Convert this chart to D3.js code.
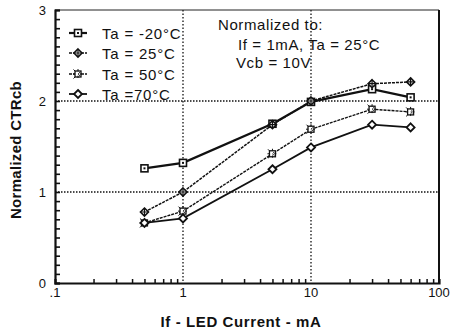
<!DOCTYPE html>
<html><head><meta charset="utf-8">
<script src="https://cdn.jsdelivr.net/npm/d3@7"></script>
<style>body{margin:0;background:#fff}svg{display:block}text{font-family:"Liberation Sans",Arial,sans-serif}</style>
</head><body><svg id="c" width="454" height="332"></svg>
<script>
const currents = [0.5, 1, 5, 10, 30, 60];
const seriesNames = ["Ta = -20\u00B0C", "Ta = 25\u00B0C", "Ta = 50\u00B0C", "Ta =70\u00B0C"];
const vMinus20 = [1.26, 1.32, 1.75, 1.99, 2.13, 2.04];
const v25 = [0.78, 1.00, 1.74, 2.00, 2.19, 2.21];
const v50 = [0.66, 0.79, 1.42, 1.69, 1.91, 1.88];
const v70 = [0.66, 0.71, 1.25, 1.49, 1.74, 1.71];
const xTickLabels = [".1", "1", "10", "100"];
const yTickLabels = ["0", "1", "2", "3"];
const noteLines = ["Normalized to:", "If = 1mA, Ta = 25\u00B0C", "Vcb = 10V"];

const svg = d3.select("#c");
const L = 55, R = 439, T = 10, B = 283;
const x = d3.scaleLog().domain([0.1, 100]).range([L, R]);
const y = d3.scaleLinear().domain([0, 3]).range([B, T]);

// grid
const g = svg.append("g");
[1, 10].forEach(v => g.append("line").attr("x1", x(v)).attr("x2", x(v)).attr("y1", T).attr("y2", B)
  .attr("stroke", "#111").attr("stroke-width", 1.3).attr("stroke-dasharray", "1.5,2"));
[1, 2].forEach(v => g.append("line").attr("x1", L).attr("x2", R).attr("y1", y(v)).attr("y2", y(v))
  .attr("stroke", "#111").attr("stroke-width", 1.3).attr("stroke-dasharray", "1.5,1.5"));

// frame
svg.append("line").attr("x1", L).attr("x2", R).attr("y1", T).attr("y2", T).attr("stroke", "#222").attr("stroke-width", 1);
svg.append("line").attr("x1", R).attr("x2", R).attr("y1", T).attr("y2", B).attr("stroke", "#111").attr("stroke-width", 2);

// axes
const yAxis = d3.axisLeft(y).tickValues(d3.range(0, 3.0001, 0.1)).tickSize(-5).tickFormat("");
svg.append("g").attr("transform", `translate(${L},0)`).call(yAxis)
  .call(a => a.select(".domain").attr("stroke", "#111").attr("stroke-width", 2.2))
  .call(a => a.selectAll(".tick line").attr("stroke", "#111").attr("stroke-width", 1.6));
const minorX = [];
[0.1, 1, 10].forEach(d => { for (let k = 2; k <= 9; k++) minorX.push(d * k); });
const xAxis = d3.axisBottom(x).tickValues(minorX).tickSize(-4).tickFormat("");
svg.append("g").attr("transform", `translate(0,${B})`).call(xAxis)
  .call(a => a.select(".domain").attr("stroke", "#111").attr("stroke-width", 2.2))
  .call(a => a.selectAll(".tick line").attr("stroke", "#111").attr("stroke-width", 1.5));

// tick labels
[0.1, 1, 10, 100].forEach((v, i) => svg.append("text").attr("x", x(v)).attr("y", 297)
  .attr("text-anchor", "middle").attr("font-size", 13).attr("fill", "#111").text(xTickLabels[i]));
[0, 1, 2, 3].forEach((v, i) => svg.append("text").attr("x", 46).attr("y", y(v) + 5)
  .attr("text-anchor", "end").attr("font-size", 13).attr("fill", "#111").text(yTickLabels[i]));

svg.append("text").attr("x", 241).attr("y", 327).attr("text-anchor", "middle").attr("font-size", 15)
  .attr("font-weight", "bold").attr("letter-spacing", 0.6).attr("fill", "#111").text("If - LED Current - mA");
svg.append("text").attr("transform", "translate(21,150) rotate(-90)").attr("text-anchor", "middle")
  .attr("font-size", 15).attr("font-weight", "bold").attr("letter-spacing", 0.3).attr("fill", "#111").text("Normalized CTRcb");

// markers
function marker(sel, type) {
  if (type === 0) {
    sel.append("rect").attr("x", -3.5).attr("y", -3.5).attr("width", 7).attr("height", 7)
      .attr("fill", "#fff").attr("stroke", "#111").attr("stroke-width", 1.6);
    sel.append("rect").attr("x", -1).attr("y", -1).attr("width", 2).attr("height", 2).attr("fill", "#111");
  } else if (type === 1) {
    sel.append("path").attr("d", "M0,-4L4,0L0,4L-4,0Z").attr("fill", "#fff").attr("stroke", "#111").attr("stroke-width", 1.6);
    sel.append("path").attr("d", "M0,-4V4M-4,0H4").attr("stroke", "#111").attr("stroke-width", 1.2);
  } else if (type === 2) {
    sel.append("rect").attr("x", -3).attr("y", -3).attr("width", 6).attr("height", 6)
      .attr("fill", "#fff").attr("stroke", "#111").attr("stroke-width", 1.3);
    sel.append("path").attr("d", "M-4.5,-4.5L4.5,4.5M-4.5,4.5L4.5,-4.5M0,-5V5M-5,0H5").attr("stroke", "#111").attr("stroke-width", 1)
      .attr("stroke-dasharray", "2.2,4.5");
  } else {
    sel.append("path").attr("d", "M0,-4L4,0L0,4L-4,0Z").attr("fill", "#fff").attr("stroke", "#111").attr("stroke-width", 1.8);
  }
}

const allSeries = [vMinus20, v25, v50, v70];
const lineStyles = [
  {w: 2.2, dash: null},
  {w: 1.5, dash: "3,1"},
  {w: 1.4, dash: "3,1"},
  {w: 1.8, dash: null}
];
const line = d3.line().x(d => x(d[0])).y(d => y(d[1]));
allSeries.forEach((vals, si) => {
  const pts = currents.map((c, i) => [c, vals[i]]);
  svg.append("path").attr("d", line(pts)).attr("fill", "none").attr("stroke", "#111")
    .attr("stroke-width", lineStyles[si].w).attr("stroke-dasharray", lineStyles[si].dash);
});
allSeries.forEach((vals, si) => {
  currents.forEach((c, i) => {
    const m = svg.append("g").attr("transform", `translate(${x(c)},${y(vals[i])})`);
    marker(m, si);
  });
});

// legend
const legY = [33, 53, 74, 94];
seriesNames.forEach((n, i) => {
  svg.append("line").attr("x1", 69).attr("x2", 87).attr("y1", legY[i]).attr("y2", legY[i])
    .attr("stroke", "#111").attr("stroke-width", lineStyles[i].w).attr("stroke-dasharray", lineStyles[i].dash);
  marker(svg.append("g").attr("transform", `translate(78,${legY[i]})`), i);
  svg.append("text").attr("x", 102).attr("y", legY[i] + 5.5).attr("font-size", 15)
    .attr("letter-spacing", 0.8).attr("fill", "#111").text(n);
});

// note
const noteX = [218, 238, 236], noteY = [30, 50, 68];
noteLines.forEach((t, i) => svg.append("text").attr("x", noteX[i]).attr("y", noteY[i])
  .attr("font-size", 15).attr("letter-spacing", 0.6).attr("fill", "#111").text(t));
</script></body></html>
